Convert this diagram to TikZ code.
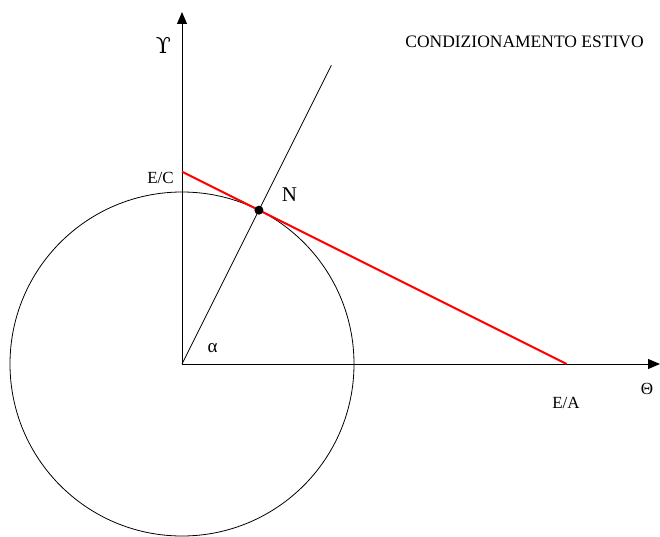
\documentclass[tikz,border=0pt]{standalone}
\usepackage{fontspec}
\setmainfont{Liberation Serif}
\newfontfamily\symfont{DejaVu Serif}
\usetikzlibrary{arrows.meta}
\definecolor{tangent}{HTML}{FF0000}

\begin{document}
\begin{tikzpicture}[x=1pt,y=1pt,
  axis/.style={line width=1pt,-{Triangle[length=12pt,width=10pt]}},
  lbl/.style={font=\fontsize{17}{20}\selectfont,inner sep=0pt}]
  \useasboundingbox (-182,-172) rectangle (478,364);

  % axes
  \coordinate (O) at (0,0);
  \coordinate (Ytop) at (0,352);
  \coordinate (Xend) at (478,0);
  \draw[axis] (O) -- (Ytop);
  \draw[axis] (O) -- (Xend);

  % circle and radius through N
  \draw[line width=0.8pt] (O) circle[radius=172pt];
  \coordinate (R) at (63.43:334);
  \draw[line width=0.8pt] (O) -- (R);

  % tangent in N
  \coordinate (EC) at (0,192.3);
  \coordinate (EA) at (384.6,0);
  \draw[tangent,line width=2pt] (EC) -- (EA);
  \node[circle,fill,inner sep=0pt,minimum size=9pt] (N) at (63.43:172) {};

  % labels
  \node[lbl,font=\symfont\fontsize{22}{24}\selectfont] (ylab) at (-18.5,319) {ϒ};
  \node[lbl] (xlab) at (465,-25) {Θ};
  \node[lbl,font=\fontsize{17.5}{20}\selectfont] (title) at (342.5,322.5) {CONDIZIONAMENTO ESTIVO};
  \node[lbl] (eclab) at (-21.5,186.5) {E/C};
  \node[lbl] (ealab) at (384,-38.5) {E/A};
  \node[lbl,font=\fontsize{21}{24}\selectfont] (nlab) at (107.5,169) {N};
  \node[lbl,font=\fontsize{19}{22}\selectfont] (alab) at (30.5,15.5) {α};
\end{tikzpicture}
\end{document}
